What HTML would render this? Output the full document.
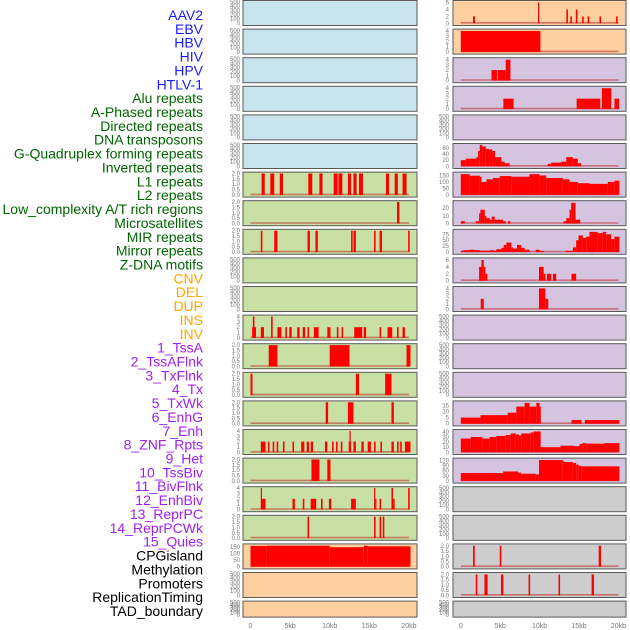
<!DOCTYPE html>
<html><head><meta charset="utf-8"><style>
html,body{margin:0;padding:0;background:#fff;width:630px;height:630px;overflow:hidden}
svg{display:block}
</style></head><body>
<svg id="chart" width="630" height="630" viewBox="0 0 630 630" xmlns="http://www.w3.org/2000/svg" font-family="'Liberation Sans', sans-serif">
<g id="labels"></g>
<g id="panels"></g>
<g id="xaxis"></g>
</svg>
<script>
// ---- labels ----
const trackLabels = ["AAV2","EBV","HBV","HIV","HPV","HTLV-1","Alu repeats","A-Phased repeats","Directed repeats","DNA transposons","G-Quadruplex forming repeats","Inverted repeats","L1 repeats","L2 repeats","Low_complexity A/T rich regions","Microsatellites","MIR repeats","Mirror repeats","Z-DNA motifs","CNV","DEL","DUP","INS","INV","1_TssA","2_TssAFlnk","3_TxFlnk","4_Tx","5_TxWk","6_EnhG","7_Enh","8_ZNF_Rpts","9_Het","10_TssBiv","11_BivFlnk","12_EnhBiv","13_ReprPC","14_ReprPCWk","15_Quies","CPGisland","Methylation","Promoters","ReplicationTiming","TAD_boundary"];
const labelGroupSizes = [6,13,5,15,5];
const labelColors = ["#1a1aff","#006400","#ffa500","#a020f0","#000000"];

// ---- x axis ----
const xTickValues = [0,5,10,15,20];
const xTickLabels = ["0","5kb","10kb","15kb","20kb"];

// ---- left column data (kb start, kb end, value) ----
const leftL1 = [[1.4,1.8,2],[2.5,3.0,2],[3.7,4.1,2],[7.3,7.8,2],[8.7,9.1,2],[10.5,11.0,2],[11.1,11.6,2],[12.3,12.7,2],[13.0,13.4,2],[13.7,14.2,2],[17.1,17.5,2],[18.2,18.6,2],[19.2,19.7,2]];
const leftL2 = [[18.5,18.8,2]];
const leftMIR = [[1.3,1.5,2],[3.0,3.4,2],[7.2,7.5,2],[8.2,8.5,2],[12.7,12.9,2],[13.0,13.3,2],[15.6,15.8,2],[16.3,16.6,2],[19.9,20.1,2]];
const leftINS = [[0.2,0.7,2],[0.3,0.5,4],[1.3,1.7,2],[2.6,2.8,4],[3.4,3.9,2],[4.4,4.6,2],[4.9,5.2,2],[5.9,6.2,2],[6.6,6.9,2],[7.2,7.4,2],[8.0,8.6,2],[9.7,10.1,2],[10.9,11.1,2],[11.5,11.7,2],[13.1,14.1,2],[14.3,14.6,2],[16.3,16.5,2],[17.3,17.9,2],[18.5,18.7,2],[19.2,19.5,2]];
const leftTssA = [[2.3,3.4,2],[10.0,12.5,2],[19.7,20.2,2]];
const leftTssAFlnk = [[0.0,0.25,2],[13.3,13.7,2],[17.0,17.8,2]];
const leftTxFlnk = [[9.5,9.8,2],[12.3,13.0,2],[17.8,18.1,2]];
const leftTx = [[1.3,1.9,2],[2.2,2.4,2],[2.8,3.0,2],[3.3,3.5,2],[4.1,4.3,2],[5.3,5.5,2],[6.4,6.8,2],[7.1,7.4,2],[7.6,7.9,2],[9.4,9.7,2],[10.3,10.5,2],[10.8,11.0,2],[11.4,11.6,2],[12.4,12.7,2],[12.5,12.6,4],[13.0,13.3,2],[14.0,14.3,2],[14.8,15.2,2],[15.6,15.8,2],[16.4,16.6,2],[17.8,18.1,2],[18.5,18.7,2],[18.9,19.1,2],[19.5,20.2,2]];
const leftTxWk = [[7.7,8.7,2],[9.7,10.1,2]];
const leftEnhG = [[1.3,1.45,4],[1.45,1.9,2],[5.3,5.6,2],[6.6,6.8,2],[7.6,8.3,2],[8.9,9.1,2],[9.9,10.2,2],[12.7,13.0,2],[13.0,13.3,2],[15.6,15.75,4],[15.75,15.85,2],[16.3,16.5,2],[17.8,18.0,4],[18.0,18.2,2],[19.9,20.1,4]];
const leftEnh = [[7.2,7.4,2],[15.6,15.8,2],[16.3,16.5,2],[16.7,16.9,2]];
const leftCPG = [[0,2,160],[2,10,162],[10,14.3,150],[14.3,14.8,162],[14.8,20.2,157]];

// ---- right column data ----
const rightAAV2 = [[1.55,1.8,2],[9.8,9.95,6],[13.4,13.6,4],[13.9,14.1,2],[14.6,14.8,4],[15.4,15.6,2],[16.1,16.3,2],[17.6,17.8,2],[19.7,19.9,2]];
const rightEBV = [[0,10.1,4]];
const rightHIV = [[3.9,4.6,2],[4.7,5.7,2],[5.7,6.3,4]];
const rightHPV = [[5.4,6.7,2],[14.7,17.7,2],[17.9,19.1,4],[19.5,20.1,2]];
const rightG4 = [[0,0.63,20],[0.63,1.98,25],[1.98,2.19,30],[2.19,2.40,50],[2.40,2.70,70],[2.70,3.16,65],[3.16,3.59,57],[3.59,4.01,55],[4.01,4.35,50],[4.35,5.15,30],[5.15,5.57,15],[5.57,6.20,10],[11.05,11.48,8],[11.48,12.74,12],[12.74,13.38,15],[13.38,14.22,30],[14.22,14.85,25],[14.85,15.27,10]];
const rightL1 = [[0,1.14,160],[1.14,2.40,148],[2.40,2.62,140],[2.62,3.25,100],[3.25,4.09,120],[4.09,4.94,130],[4.94,6.41,145],[6.41,8.73,140],[8.73,10.00,160],[10.00,10.84,150],[10.84,12.95,130],[12.95,13.80,120],[13.80,14.85,100],[14.85,16.33,90],[16.33,18.65,85],[18.65,19.49,100],[19.49,20.13,110]];
const rightLowComplex = [[0,0.51,3],[1.90,2.32,3],[2.32,2.49,13],[2.49,3.04,18],[3.04,3.25,10],[3.25,3.67,7],[3.67,3.92,5],[3.92,4.30,9],[4.30,5.36,5],[5.36,5.70,3],[5.99,6.29,3],[13.04,13.38,3],[13.38,13.80,7],[13.80,14.01,18],[14.01,14.56,27],[14.56,15.15,5]];
const rightMIR = [[0,0.30,5],[0.30,1.14,8],[1.14,1.77,10],[1.77,2.40,8],[2.40,3.67,6],[3.67,4.18,8],[4.18,4.51,6],[4.51,5.15,12],[5.15,5.44,18],[5.44,5.78,30],[5.78,6.41,40],[6.41,6.62,20],[6.62,7.13,15],[7.13,7.68,30],[7.68,8.10,18],[8.10,8.73,10],[9.49,10.00,10],[10.00,10.51,5],[13.29,14.22,5],[14.22,14.64,20],[14.64,14.94,50],[14.94,15.49,70],[15.49,15.91,60],[15.91,16.33,65],[16.33,17.38,85],[17.38,18.02,80],[18.02,18.44,85],[18.44,19.07,75],[19.07,19.49,55],[19.49,20.13,65]];
const rightCNV = [[2.32,2.62,4],[2.62,2.91,6],[2.91,3.12,4],[3.12,3.38,2],[9.92,10.51,4],[10.51,10.76,2],[10.93,11.48,2],[11.69,12.11,2],[14.05,14.64,2]];
const rightDEL = [[2.53,2.91,2],[9.92,10.72,4],[10.72,11.10,2]];
const rightTxWk = [[0,2.49,5],[2.49,5.95,7],[5.95,7.05,9],[7.05,8.10,14],[8.10,8.73,17],[8.73,9.58,14],[9.58,10.00,17],[10.00,10.13,14],[14.05,15.32,3],[15.74,20.13,3]];
const rightEnhG = [[0,1.27,27],[1.27,2.74,30],[2.74,3.67,27],[3.67,4.51,30],[4.51,5.70,32],[5.70,6.33,34],[6.33,6.96,37],[6.96,7.38,35],[7.38,7.68,33],[7.68,8.86,37],[8.86,9.24,39],[9.24,10.13,41],[10.13,12.66,10],[12.66,14.30,13],[14.30,15.06,12],[15.06,15.40,16],[15.40,15.91,18],[15.91,18.23,17],[18.23,20.13,18]];
const rightEnh = [[0,5.36,46],[5.36,7.26,55],[7.26,7.68,48],[7.68,9.49,42],[9.49,9.92,38],[9.92,12.95,122],[12.95,13.16,115],[13.16,14.22,110],[14.22,14.64,105],[14.64,14.98,95],[14.98,15.27,88],[15.27,20.13,85]];
const rightCPG = [[1.55,1.77,2],[4.94,5.15,2],[17.5,17.8,2]];
const rightPromoters = [[1.9,2.1,2],[3.0,3.4,2],[5.1,5.4,2],[8.6,8.8,2],[12.4,12.6,2],[16.6,16.9,2]];

// ---- tick sets ----
const emptyTicks = [0,100,200,300,400,500];
const binTicks = [0,0.5,1,1.5,2];
const four = [0,1,2,3,4];

const C = {blue:"#c8e4ec",green:"#c8e0a4",orange:"#fecf9f",purple:"#d4c4e0",gray:"#cdcdcd"};
const leftRows = [
 ["blue",null,500,emptyTicks,0],["blue",null,500,emptyTicks,0],["blue",null,500,emptyTicks,0],["blue",null,500,emptyTicks,0],["blue",null,500,emptyTicks,0],["blue",null,500,emptyTicks,0],
 ["green",leftL1,2,binTicks,1],["green",leftL2,2,binTicks,1],["green",leftMIR,2,binTicks,1],["green",null,500,emptyTicks,0],["green",null,500,emptyTicks,0],
 ["green",leftINS,4,four,0],["green",leftTssA,2,binTicks,1],["green",leftTssAFlnk,2,binTicks,1],["green",leftTxFlnk,2,binTicks,1],
 ["green",leftTx,4,four,0],["green",leftTxWk,2,binTicks,1],["green",leftEnhG,4,four,0],["green",leftEnh,2,binTicks,1],
 ["orange",leftCPG,165,[0,50,100,150],0],["orange",null,500,emptyTicks,0],["orange",null,500,emptyTicks,0]
];
const rightRows = [
 ["orange",rightAAV2,6.2,[0,2,4,6],0],["orange",rightEBV,4.1,four,0],["purple",rightHIV,4.1,four,0],["purple",rightHPV,4.1,four,0],["purple",null,500,emptyTicks,0],
 ["purple",rightG4,70,[0,20,40,60],0],["purple",rightL1,165,[0,50,100,150],0],["purple",rightLowComplex,28,[0,10,20],0],["purple",rightMIR,90,[0,25,50,75],0],
 ["purple",rightCNV,6.2,[0,2,4,6],0],["purple",rightDEL,4.1,four,0],["purple",null,500,emptyTicks,0],["purple",null,500,emptyTicks,0],["purple",null,500,emptyTicks,0],
 ["purple",rightTxWk,17.5,[0,5,10,15],0],["purple",rightEnhG,42,[0,10,20,30,40],0],["purple",rightEnh,125,[0,30,60,90,120],0],
 ["gray",null,500,emptyTicks,0],["gray",null,500,emptyTicks,0],["gray",rightCPG,2.05,binTicks,1],["gray",rightPromoters,2.05,binTicks,1],["gray",null,500,emptyTicks,0]
];

const NS="http://www.w3.org/2000/svg";
function mk(tag,attrs,parent){const e=document.createElementNS(NS,tag);for(const k in attrs)e.setAttribute(k,attrs[k]);parent.appendChild(e);return e;}

// labels
const lg=document.getElementById('labels');
let gi=0,cnt=0;
trackLabels.forEach((t,i)=>{
  while(cnt>=labelGroupSizes[gi]){gi++;cnt=0;}
  cnt++;
  const tx=mk('text',{x:203,y:15+i*13.86+5,'text-anchor':'end','font-size':14,fill:labelColors[gi]},lg);
  
  
  tx.textContent=t;
});

const pg=document.getElementById('panels');
const cols=[{rows:leftRows,x0:243,x1:417,z:250.5,k:7.92,tx:240,side:'left'},{rows:rightRows,x0:453,x1:626,z:460.8,k:7.88,tx:449,side:'right'}];
cols.forEach(col=>{
  col.rows.forEach((r,i)=>{
    const T=0.5+i*28.6, H=(i===21)?16:25;
    const [bg,data,ymax,ticks,dec]=r;
    const g=mk('g',{},pg);
    
    
    const base=T+H-2.2, span=H-3.6;
    const yv=v=>base-Math.min(v,ymax*1.03)/ymax*span;
    const xv=kb=>col.z+kb*col.k;
    const rect=mk('rect',{x:col.x0,y:T,width:col.x1-col.x0,height:H,fill:C[bg],stroke:'#5a5a5a','stroke-width':1},g);
    
    
    ticks.forEach(tv=>{
      const t=mk('text',{x:col.tx,y:yv(tv)+2,'text-anchor':'end','font-size':6,fill:'#777'},g);
      
      
      t.textContent=tv.toFixed(dec);
    });
    if(data){
      const bl=mk('line',{x1:xv(0),x2:xv(20),y1:base-0.5,y2:base-0.5,stroke:'rgba(190,40,40,0.55)','stroke-width':1.6},g);
      
      
      data.forEach(d=>{
        const x=xv(d[0]),w=Math.max(xv(d[1])-x,1.2),y=yv(d[2]);
        const b=mk('rect',{x:x,y:y,width:w,height:base-y,fill:'#ff0000'},g);
        
        
      });
    }
  });
  const xg=document.getElementById('xaxis');
  xTickValues.forEach((v,j)=>{
    const t=mk('text',{x:col.z+v*col.k,y:628,'text-anchor':'middle','font-size':7,fill:'#777'},xg);
    
    
    t.textContent=xTickLabels[j];
  });
});
</script>
</body></html>
